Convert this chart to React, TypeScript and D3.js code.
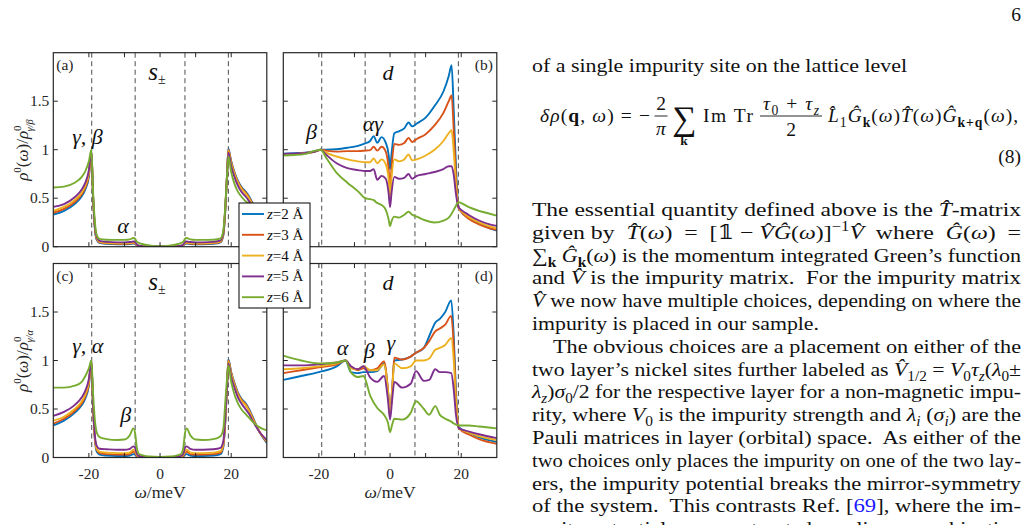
import React from 'react'
import * as d3 from 'd3'

// MATLAB default line colours, one per impurity height z
const COLORS = ['#0072BD', '#D95319', '#EDB120', '#7E2F8E', '#77AC30']
const Z_VALUES = ['2', '3', '4', '5', '6']

const X_TICKS = [-20, -10, 0, 10, 20]
const X_TICK_LABELS = ['-20', '', '0', '', '20']
const Y_TICKS = [0, 0.5, 1, 1.5]
const Y_TICK_LABELS = ['0', '0.5', '1', '1.5']
const GAP_EDGES = [-19.2, -7, 7, 19.2]

// ---- s± panels (a) and (c): energy grid
const OMEGA_S = [-30, -27, -24, -22, -21, -20, -19.3, -18.8, -18.3, -17.8, -17, -15, -12, -10, -8.5, -7.5, -7, -6.6, -6, -5, -3, 0,
  3, 5, 6, 6.6, 7, 7.5, 8.5, 10, 12, 15, 17, 17.8, 18.3, 18.8, 19.2, 20, 21, 22, 23, 24, 25, 26, 28, 30]

const A_Z2 = [0.33, 0.37, 0.44, 0.52, 0.59, 0.72, 0.98, 0.5, 0.18, 0.07, 0.04, 0.03, 0.025, 0.025, 0.028, 0.033, 0.03, 0.015, 0.008, 0.004, 0.002, 0.001,
  0.002, 0.004, 0.008, 0.015, 0.03, 0.033, 0.028, 0.025, 0.025, 0.03, 0.045, 0.12, 0.35, 0.72, 1.01, 0.88, 0.76, 0.67, 0.61, 0.57, 0.52, 0.45, 0.31, 0.2]
const A_Z3 = [0.35, 0.39, 0.46, 0.54, 0.61, 0.74, 0.98, 0.5, 0.19, 0.08, 0.045, 0.035, 0.03, 0.03, 0.033, 0.038, 0.035, 0.018, 0.009, 0.005, 0.002, 0.001,
  0.002, 0.005, 0.009, 0.018, 0.035, 0.038, 0.033, 0.03, 0.03, 0.035, 0.05, 0.13, 0.36, 0.72, 1.0, 0.87, 0.75, 0.66, 0.6, 0.56, 0.51, 0.44, 0.3, 0.2]
const A_Z4 = [0.37, 0.41, 0.48, 0.56, 0.63, 0.76, 0.98, 0.5, 0.2, 0.09, 0.05, 0.04, 0.035, 0.035, 0.038, 0.043, 0.04, 0.02, 0.01, 0.005, 0.002, 0.001,
  0.002, 0.005, 0.01, 0.02, 0.04, 0.043, 0.038, 0.035, 0.035, 0.04, 0.055, 0.14, 0.37, 0.72, 0.99, 0.86, 0.74, 0.65, 0.59, 0.55, 0.5, 0.43, 0.29, 0.21]
const A_Z5 = [0.41, 0.44, 0.51, 0.59, 0.66, 0.79, 0.99, 0.5, 0.2, 0.1, 0.06, 0.05, 0.045, 0.045, 0.048, 0.053, 0.05, 0.025, 0.012, 0.006, 0.003, 0.002,
  0.003, 0.006, 0.012, 0.025, 0.05, 0.053, 0.048, 0.045, 0.045, 0.05, 0.065, 0.15, 0.38, 0.72, 0.97, 0.83, 0.71, 0.62, 0.56, 0.52, 0.47, 0.41, 0.29, 0.22]
const A_Z6 = [0.61, 0.62, 0.66, 0.72, 0.78, 0.88, 1.0, 0.55, 0.25, 0.12, 0.08, 0.072, 0.07, 0.07, 0.075, 0.09, 0.08, 0.055, 0.04, 0.028, 0.014, 0.005,
  0.014, 0.028, 0.04, 0.055, 0.08, 0.09, 0.075, 0.07, 0.07, 0.072, 0.085, 0.17, 0.4, 0.72, 0.93, 0.77, 0.64, 0.56, 0.51, 0.47, 0.44, 0.4, 0.33, 0.27]

const C_Z2 = [0.33, 0.38, 0.46, 0.54, 0.61, 0.74, 0.99, 0.5, 0.18, 0.06, 0.03, 0.02, 0.015, 0.015, 0.02, 0.035, 0.03, 0.012, 0.005, 0.003, 0.001, 0.0,
  0.001, 0.003, 0.005, 0.012, 0.03, 0.035, 0.02, 0.015, 0.015, 0.02, 0.035, 0.11, 0.34, 0.72, 1.01, 0.88, 0.76, 0.66, 0.6, 0.56, 0.5, 0.42, 0.26, 0.15]
const C_Z3 = [0.35, 0.4, 0.48, 0.56, 0.63, 0.76, 0.99, 0.5, 0.19, 0.08, 0.045, 0.035, 0.03, 0.03, 0.035, 0.06, 0.05, 0.02, 0.008, 0.005, 0.002, 0.001,
  0.002, 0.005, 0.008, 0.02, 0.05, 0.06, 0.035, 0.03, 0.03, 0.035, 0.05, 0.13, 0.36, 0.72, 1.0, 0.87, 0.75, 0.65, 0.59, 0.55, 0.49, 0.41, 0.26, 0.16]
const C_Z4 = [0.38, 0.42, 0.5, 0.58, 0.65, 0.78, 0.99, 0.5, 0.2, 0.09, 0.06, 0.05, 0.045, 0.045, 0.05, 0.08, 0.065, 0.03, 0.012, 0.007, 0.003, 0.001,
  0.003, 0.007, 0.012, 0.03, 0.065, 0.08, 0.05, 0.045, 0.045, 0.05, 0.065, 0.14, 0.37, 0.72, 0.99, 0.86, 0.74, 0.64, 0.58, 0.54, 0.48, 0.4, 0.26, 0.17]
const C_Z5 = [0.43, 0.47, 0.54, 0.62, 0.69, 0.81, 1.0, 0.52, 0.22, 0.12, 0.09, 0.085, 0.08, 0.08, 0.09, 0.115, 0.1, 0.045, 0.018, 0.01, 0.004, 0.002,
  0.004, 0.01, 0.018, 0.045, 0.1, 0.115, 0.09, 0.08, 0.08, 0.085, 0.1, 0.17, 0.4, 0.72, 0.97, 0.83, 0.71, 0.61, 0.55, 0.5, 0.45, 0.38, 0.26, 0.18]
const C_Z6 = [0.72, 0.72, 0.74, 0.78, 0.84, 0.92, 1.0, 0.65, 0.38, 0.26, 0.21, 0.19, 0.18, 0.185, 0.23, 0.3, 0.25, 0.12, 0.04, 0.025, 0.01, 0.005,
  0.01, 0.025, 0.04, 0.12, 0.25, 0.3, 0.23, 0.185, 0.18, 0.19, 0.22, 0.3, 0.55, 0.8, 0.95, 0.78, 0.64, 0.55, 0.49, 0.45, 0.41, 0.37, 0.31, 0.28]

// ---- d-wave panel (b)
const OMEGA_B = [-30, -27, -24, -21, -19.5, -18, -15, -12, -9, -7, -5.6, -4.6, -3.6, -2.4, -1.2, -0.4, 0, 0.4, 1.2, 2.5, 4, 5.2, 6.2, 7.5,
  10, 12.5, 15, 16.5, 17.3, 17.9, 18.5, 19.2, 20, 22, 25, 28, 30]
const B_Z2 = [0.96, 0.965, 0.97, 0.985, 1.0, 1.0, 1.005, 1.02, 1.04, 1.065, 1.09, 1.14, 1.07, 1.13, 1.07, 0.95, 0.8, 0.95, 1.17, 1.19, 1.22, 1.28, 1.24, 1.27,
  1.33, 1.45, 1.6, 1.76, 1.87, 1.4, 0.85, 0.42, 0.36, 0.3, 0.24, 0.19, 0.165]
const B_Z3 = [0.95, 0.955, 0.965, 0.98, 1.0, 0.99, 0.98, 0.985, 0.985, 0.99, 0.995, 1.03, 0.99, 1.03, 0.98, 0.8, 0.6, 0.8, 1.06, 1.05, 1.07, 1.12, 1.08, 1.11,
  1.16, 1.25, 1.38, 1.5, 1.56, 1.2, 0.75, 0.41, 0.36, 0.29, 0.23, 0.19, 0.175]
const B_Z4 = [0.95, 0.955, 0.965, 0.98, 1.0, 0.97, 0.93, 0.9, 0.88, 0.87, 0.87, 0.91, 0.86, 0.9, 0.85, 0.7, 0.5, 0.7, 0.9, 0.88, 0.9, 0.95, 0.89, 0.9,
  0.94, 1.0, 1.09, 1.17, 1.2, 0.98, 0.66, 0.41, 0.37, 0.31, 0.25, 0.21, 0.19]
const B_Z5 = [0.955, 0.96, 0.965, 0.98, 1.0, 0.95, 0.86, 0.81, 0.79, 0.78, 0.78, 0.8, 0.69, 0.73, 0.7, 0.55, 0.41, 0.55, 0.72, 0.7, 0.71, 0.75, 0.7, 0.73,
  0.75, 0.77, 0.8, 0.83, 0.83, 0.74, 0.55, 0.41, 0.38, 0.33, 0.27, 0.23, 0.215]
const B_Z6 = [0.94, 0.945, 0.955, 0.99, 1.0, 0.92, 0.76, 0.66, 0.57, 0.5, 0.49, 0.48, 0.45, 0.43, 0.38, 0.28, 0.21, 0.26, 0.31, 0.3, 0.33, 0.36, 0.33, 0.31,
  0.27, 0.25, 0.27, 0.3, 0.34, 0.38, 0.42, 0.46, 0.45, 0.41, 0.37, 0.34, 0.32]

// ---- d-wave panel (d)
const OMEGA_D = [-30, -25, -20, -15, -12.5, -11, -9, -7.5, -5.5, -3.6, -1.7, -0.6, 0, 0.6, 1.2, 3.4, 5.8, 7.3, 9.5, 11, 12.7, 14, 15.5, 17.2,
  17.9, 18.5, 19.4, 22, 25, 30]
const D_Z2 = [0.8, 0.84, 0.88, 0.94, 1.0, 0.88, 0.87, 0.88, 0.88, 0.89, 0.97, 0.7, 0.45, 0.7, 1.0, 1.01, 1.04, 1.08, 1.13, 1.25, 1.39, 1.43, 1.5, 1.62,
  1.25, 0.7, 0.31, 0.26, 0.21, 0.16]
const D_Z3 = [0.87, 0.9, 0.93, 0.96, 1.0, 0.93, 0.9, 0.92, 0.9, 0.92, 0.99, 0.7, 0.43, 0.7, 1.03, 1.01, 1.04, 1.08, 1.13, 1.2, 1.3, 1.33, 1.37, 1.46,
  1.15, 0.65, 0.3, 0.24, 0.19, 0.14]
const D_Z4 = [0.91, 0.92, 0.94, 0.97, 1.0, 0.92, 0.91, 0.94, 0.9, 0.9, 0.96, 0.7, 0.46, 0.7, 0.97, 0.92, 0.94, 1.0, 1.0, 1.02, 1.11, 1.13, 1.16, 1.23,
  1.0, 0.6, 0.3, 0.26, 0.22, 0.18]
const D_Z5 = [0.95, 0.95, 0.96, 0.98, 1.0, 0.94, 0.91, 0.94, 0.82, 0.78, 0.84, 0.6, 0.39, 0.6, 0.78, 0.72, 0.76, 0.89, 0.79, 0.8, 0.91, 0.88, 0.88, 0.87,
  0.7, 0.45, 0.3, 0.27, 0.24, 0.2]
const D_Z6 = [1.05, 1.0, 0.97, 0.98, 1.0, 0.88, 0.83, 0.84, 0.63, 0.51, 0.44, 0.36, 0.26, 0.34, 0.4, 0.39, 0.46, 0.58, 0.5, 0.44, 0.53, 0.44, 0.4, 0.37,
  0.35, 0.34, 0.33, 0.33, 0.32, 0.3]

const SERIF = '"Liberation Serif", "DejaVu Serif", serif'
const AX = '#262626'
const PW = 213.5
const PH = 194

type Note = { t: React.ReactNode; w: number; v: number; size?: number }

function Panel(props: {
  left: number; top: number; omega: number[]; series: number[][]; id: string
  tag: string; tagRight?: boolean; yLabels?: boolean; xLabels?: boolean; notes: Note[]
}) {
  const { left, top, omega, series, id, tag, tagRight, yLabels, xLabels, notes } = props
  const x = d3.scaleLinear().domain([-30, 30]).range([left, left + PW])
  const y = d3.scaleLinear().domain([0, 2]).range([top + PH, top])
  const line = d3.line<number>().x((_, i) => x(omega[i])).y(d => y(d)).curve(d3.curveMonotoneX)
  const tk = 4.5
  return (
    <g fontFamily={SERIF}>
      <clipPath id={id}><rect x={left} y={top} width={PW} height={PH} /></clipPath>
      {GAP_EDGES.map(g => (
        <line key={g} x1={x(g)} x2={x(g)} y1={top} y2={top + PH} stroke="#4d4d4d" strokeWidth={1} strokeDasharray="5,3.5" />
      ))}
      <g clipPath={`url(#${id})`}>
        {series.map((s, i) => (
          <path key={i} d={line(s) || ''} fill="none" stroke={COLORS[i]} strokeWidth={1.9} strokeLinejoin="round" />
        ))}
      </g>
      <rect x={left} y={top} width={PW} height={PH} fill="none" stroke={AX} strokeWidth={1.2} />
      {X_TICKS.map(t => (
        <g key={t}>
          <line x1={x(t)} x2={x(t)} y1={top + PH} y2={top + PH - tk} stroke={AX} />
          <line x1={x(t)} x2={x(t)} y1={top} y2={top + tk} stroke={AX} />
        </g>
      ))}
      {Y_TICKS.map(t => (
        <g key={t}>
          <line x1={left} x2={left + tk} y1={y(t)} y2={y(t)} stroke={AX} />
          <line x1={left + PW} x2={left + PW - tk} y1={y(t)} y2={y(t)} stroke={AX} />
        </g>
      ))}
      {yLabels && Y_TICKS.map((t, i) => (
        <text key={t} x={left - 4} y={y(t) + 5} textAnchor="end" fontSize={15.5} fill={AX}>{Y_TICK_LABELS[i]}</text>
      ))}
      {xLabels && X_TICKS.map((t, i) => (
        <text key={t} x={x(t)} y={top + PH + 21} textAnchor="middle" fontSize={15.5} fill={AX}>{X_TICK_LABELS[i]}</text>
      ))}
      {xLabels && (
        <text x={x(0)} y={top + PH + 40} textAnchor="middle" fontSize={17.5} fill={AX}>
          <tspan fontStyle="italic">ω</tspan>/meV
        </text>
      )}
      <text x={tagRight ? left + PW - 4 : left + 3} y={top + 17} textAnchor={tagRight ? 'end' : 'start'} fontSize={15.5} fill={AX}>{tag}</text>
      {notes.map((n, i) => (
        <text key={i} x={x(n.w)} y={y(n.v)} fontSize={n.size || 22} fill="#111">{n.t}</text>
      ))}
    </g>
  )
}

function YLabel({ cx, cy, sub }: { cx: number; cy: number; sub: string }) {
  return (
    <text transform={`translate(${cx},${cy}) rotate(-90)`} textAnchor="middle" fontFamily={SERIF} fontSize={17} fill={AX}>
      <tspan fontStyle="italic">ρ</tspan>
      <tspan fontSize={11} dy={-7}>0</tspan>
      <tspan dy={7}>(</tspan>
      <tspan fontStyle="italic">ω</tspan>
      <tspan>)/</tspan>
      <tspan fontStyle="italic">ρ</tspan>
      <tspan fontSize={11} dy={-7}>0</tspan>
      <tspan fontSize={10.5} fontStyle="italic" dx={-6} dy={12}>{sub}</tspan>
    </text>
  )
}

function Legend() {
  const x0 = 239, y0 = 203, w = 71, h = 105, step = 20.8
  return (
    <g fontFamily={SERIF}>
      <rect x={x0} y={y0} width={w} height={h} fill="#fff" stroke="#000" strokeWidth={1} />
      {Z_VALUES.map((z, i) => (
        <g key={z}>
          <line x1={x0 + 3} x2={x0 + 25} y1={y0 + 11 + i * step} y2={y0 + 11 + i * step} stroke={COLORS[i]} strokeWidth={1.9} />
          <text x={x0 + 28} y={y0 + 16 + i * step} fontSize={15} fill="#111">
            <tspan fontStyle="italic">z</tspan>={z} Å
          </text>
        </g>
      ))}
    </g>
  )
}

// ---- right hand text column
type Seg = [string, string?]
const TEXT_LEFT = 532
const TEXT_W = 489

function RichLine({ x, y, w, segs, size = 19.5, glyphs = true }: { x: number; y: number; w?: number; segs: Seg[]; size?: number; glyphs?: boolean }) {
  let shift = 0
  return (
    <text x={x} y={y} fontFamily={SERIF} fontSize={size} fill="#111" style={{ whiteSpace: 'pre' }}
      textLength={w} lengthAdjust={w ? (glyphs ? 'spacingAndGlyphs' : 'spacing') : undefined}>
      {segs.map(([t, s = ''], i) => {
        const sub = s.startsWith('sub')
        const target = sub ? 5 : s === 'sup' ? -8 : 0
        const dy = target - shift
        shift = target
        return (
          <tspan key={i} dy={dy || undefined}
            fontStyle={s === 'i' || s === 'subi' ? 'italic' : undefined}
            fontWeight={s === 'subb' || s === 'b' ? 'bold' : undefined}
            fontSize={sub || s === 'sup' ? size * 0.7 : undefined}
            fill={s === 'link' ? '#1a1aff' : undefined}>{t}</tspan>
        )
      })}
    </text>
  )
}

const PARA_LINES: { segs: Seg[]; w?: number; indent?: number }[] = [
  { segs: [['The essential quantity defined above is the '], ['T\u0302', 'i'], ['-matrix']], w: TEXT_W },
  { segs: [['given by  '], ['T\u0302', 'i'], ['('], ['ω', 'i'], [')  =  [𝟙 − '], ['V\u0302G\u0302', 'i'], ['('], ['ω', 'i'], [')]'], ['−1', 'sup'], ['V\u0302', 'i'],
    ['  where  '], ['G\u0302', 'i'], ['('], ['ω', 'i'], [')  =']], w: TEXT_W },
  { segs: [['∑'], ['k', 'subb'], [' '], ['G\u0302', 'i'], ['k', 'subb'], ['('], ['ω', 'i'], [') is the momentum integrated Green’s function']], w: TEXT_W },
  { segs: [['and '], ['V\u0302', 'i'], [' is the impurity matrix.  For the impurity matrix']], w: TEXT_W },
  { segs: [['V\u0302', 'i'], [' we now have multiple choices, depending on where the']], w: TEXT_W },
  { segs: [['impurity is placed in our sample.']], w: 287 },
  { segs: [['The obvious choices are a placement on either of the']], w: TEXT_W - 21, indent: 21 },
  { segs: [['two layer’s nickel sites further labeled as '], ['V\u0302', 'i'], ['1/2', 'sub'], [' = '], ['V', 'i'], ['0', 'sub'], ['τ', 'i'], ['z', 'subi'],
    ['('], ['λ', 'i'], ['0', 'sub'], ['±']], w: TEXT_W },
  { segs: [['λ', 'i'], ['z', 'subi'], [')'], ['σ', 'i'], ['0', 'sub'], ['/2 for the respective layer for a non-magnetic impu-']], w: TEXT_W },
  { segs: [['rity, where '], ['V', 'i'], ['0', 'sub'], [' is the impurity strength and '], ['λ', 'i'], ['i', 'subi'], [' ('], ['σ', 'i'], ['i', 'subi'], [') are the']], w: TEXT_W },
  { segs: [['Pauli matrices in layer (orbital) space.  As either of the']], w: TEXT_W },
  { segs: [['two choices only places the impurity on one of the two lay-']], w: TEXT_W },
  { segs: [['ers, the impurity potential breaks the mirror-symmetry']], w: TEXT_W },
  { segs: [['of the system.  This contrasts Ref. ['], ['69', 'link'], ['], where the im-']], w: TEXT_W },
  { segs: [['purity potential was constructed as a linear combination']], w: TEXT_W },
]

function Equation({ base }: { base: number }) {
  const s = 19.5
  return (
    <g fontFamily={SERIF} fill="#111">
      <RichLine x={540} y={base} w={110} glyphs={false} segs={[['δρ', 'i'], ['('], ['q', 'b'], [', '], ['ω', 'i'], [') = −']]} />
      <text x={661} y={base - 12} textAnchor="middle" fontSize={s}>2</text>
      <line x1={654.5} x2={667.5} y1={base - 6} y2={base - 6} stroke="#111" strokeWidth={0.9} />
      <text x={661} y={base + 13} textAnchor="middle" fontSize={s} fontStyle="italic">π</text>
      <text x={684} y={base + 8} textAnchor="middle" fontSize={34}>∑</text>
      <text x={684} y={base + 23} textAnchor="middle" fontSize={13.5} fontWeight="bold">k</text>
      <RichLine x={703} y={base} w={50} glyphs={false} segs={[['Im Tr']]} />
      <RichLine x={763} y={base - 12} w={56} glyphs={false} segs={[['τ', 'i'], ['0', 'sub'], [' + '], ['τ', 'i'], ['z', 'subi']]} />
      <line x1={760} x2={822} y1={base - 6} y2={base - 6} stroke="#111" strokeWidth={0.9} />
      <text x={791} y={base + 14} textAnchor="middle" fontSize={s}>2</text>
      <RichLine x={828} y={base} w={190} glyphs={false} segs={[['L\u0302', 'i'], ['1', 'sub'], ['G\u0302', 'i'], ['k', 'subb'], ['('], ['ω', 'i'], [')'],
        ['T\u0302', 'i'], ['('], ['ω', 'i'], [')'], ['G\u0302', 'i'], ['k+q', 'subb'], ['('], ['ω', 'i'], ['),']]} />
    </g>
  )
}

export default function App() {
  const top1 = 52.7, top2 = 263.5, left1 = 53.3, left2 = 283.3
  const sPm = <><tspan fontStyle="italic">s</tspan><tspan fontSize={14} dy={4}>±</tspan></>
  const paraTop = 216
  const lineH = 22.8
  return (
    <svg width={1028} height={525} style={{ position: 'absolute', left: 0, top: 0, background: '#fff' }}>
      <rect width={1028} height={525} fill="#fff" />
      <Panel id="pa" left={left1} top={top1} omega={OMEGA_S} series={[A_Z2, A_Z3, A_Z4, A_Z5, A_Z6]} tag="(a)" yLabels
        notes={[{ t: <tspan fontStyle="italic">γ, β</tspan>, w: -24.7, v: 1.06 }, { t: <tspan fontStyle="italic">α</tspan>, w: -12, v: 0.14 },
          { t: sPm, w: -3.3, v: 1.72, size: 25 }]} />
      <Panel id="pb" left={left2} top={top1} omega={OMEGA_B} series={[B_Z2, B_Z3, B_Z4, B_Z5, B_Z6]} tag="(b)" tagRight
        notes={[{ t: <tspan fontStyle="italic">β</tspan>, w: -23.6, v: 1.11 }, { t: <tspan fontStyle="italic">αγ</tspan>, w: -7.7, v: 1.19 },
          { t: <tspan fontStyle="italic">d</tspan>, w: -2.1, v: 1.72 }]} />
      <Panel id="pc" left={left1} top={top2} omega={OMEGA_S} series={[C_Z2, C_Z3, C_Z4, C_Z5, C_Z6]} tag="(c)" yLabels xLabels
        notes={[{ t: <tspan fontStyle="italic">γ, α</tspan>, w: -24.7, v: 1.08 }, { t: <tspan fontStyle="italic">β</tspan>, w: -11.2, v: 0.37 },
          { t: sPm, w: -3.3, v: 1.73, size: 25 }]} />
      <Panel id="pd" left={left2} top={top2} omega={OMEGA_D} series={[D_Z2, D_Z3, D_Z4, D_Z5, D_Z6]} tag="(d)" tagRight xLabels
        notes={[{ t: <tspan fontStyle="italic">α</tspan>, w: -15, v: 1.06 }, { t: <tspan fontStyle="italic">β</tspan>, w: -7.4, v: 1.03 },
          { t: <tspan fontStyle="italic">γ</tspan>, w: -1, v: 1.11 }, { t: <tspan fontStyle="italic">d</tspan>, w: -2.1, v: 1.73 }]} />
      <YLabel cx={28} cy={150} sub="γ/β" />
      <YLabel cx={28} cy={361} sub="γ/α" />
      <Legend />

      <text x={1021} y={21} textAnchor="end" fontFamily={SERIF} fontSize={19.5} fill="#111">6</text>
      <RichLine x={TEXT_LEFT} y={72} w={375} segs={[['of a single impurity site on the lattice level']]} />
      <Equation base={122} />
      <text x={1021} y={163} textAnchor="end" fontFamily={SERIF} fontSize={19.5} fill="#111">(8)</text>
      {PARA_LINES.map((l, i) => (
        <RichLine key={i} x={TEXT_LEFT + (l.indent || 0)} y={paraTop + i * lineH} w={l.w} segs={l.segs} />
      ))}
    </svg>
  )
}
